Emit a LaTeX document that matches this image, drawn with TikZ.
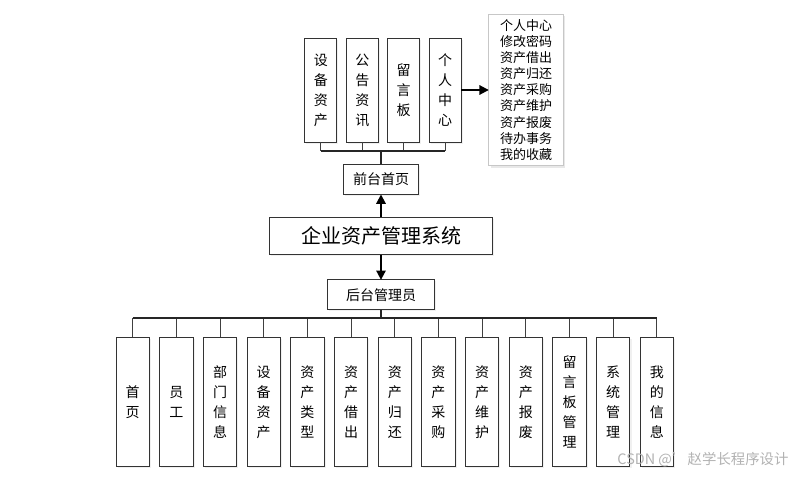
\documentclass[tikz,border=0pt]{standalone}
\usepackage{fontspec}
\setmainfont{Noto Sans CJK SC}
\usetikzlibrary{positioning,arrows.meta,shadows}

\begin{document}
\begin{tikzpicture}[x=0.75pt,y=-0.75pt,>={Triangle[length=7pt,width=7pt]},
    every node/.style={inner sep=0pt,outer sep=0pt},
    box node/.style={draw=black!80,fill=white,line width=0.7pt,align=center,
        drop shadow={opacity=0.12,shadow xshift=1.2pt,shadow yshift=-1.2pt}},
    main node/.style={box node,minimum width=167.5pt,minimum height=28.3pt,font=\fontsize{15pt}{18pt}\selectfont},
    mid node/.style={box node,minimum height=22.5pt,font=\fontsize{10.5pt}{13pt}\selectfont},
    top node/.style={box node,minimum width=24pt,minimum height=78pt,font=\fontsize{10.5pt}{15pt}\selectfont},
    sub node/.style={box node,minimum width=25.1pt,minimum height=97pt,font=\fontsize{10.5pt}{15pt}\selectfont},
    list node/.style={draw=black!22,fill=white,line width=0.6pt,align=center,minimum width=56pt,minimum height=113.8pt,
        font=\fontsize{9.75pt}{12.05pt}\selectfont,
        drop shadow={opacity=0.18,shadow xshift=1.5pt,shadow yshift=-1.5pt}},
    link/.style={draw=black!75,line width=0.75pt},
    bus/.style={draw=black!85,line width=1.2pt},
    arrow/.style={draw=black,line width=1.4pt,->}]
    \useasboundingbox (0,0) rectangle (797,477);

    % system and the two entrances
    \node[main node] (sys) at (381,236) {企业资产管理系统};
    \node[mid node,minimum width=56.25pt] (front) [above=17pt of sys] {前台首页};
    \node[mid node,minimum width=80pt] (back) [below=18.75pt of sys] {后台管理员};

    % front pages
    \node[top node] (t1) at (320.8,90) {设\\备\\资\\产};
    \node[top node] (t2) [right=7.1pt of t1] {公\\告\\资\\讯};
    \node[top node] (t3) [right=7.1pt of t2] {留\\言\\板};
    \node[top node] (t4) [right=7.1pt of t3] {个\\人\\中\\心};
    \node[list node] (list) [right=20.7pt of t4] {个人中心\\修改密码\\资产借出\\资产归还\\资产采购\\资产维护\\资产报废\\待办事务\\我的收藏};

    % back pages
    \node[sub node] (b1) at (132.7,402) {首\\页};
    \foreach \name [count=\i from 2, evaluate=\i as \j using int(\i-1)] in
        {员\\工, 部\\门\\信\\息, 设\\备\\资\\产, 资\\产\\类\\型, 资\\产\\借\\出,
         资\\产\\归\\还, 资\\产\\采\\购, 资\\产\\维\\护, 资\\产\\报\\废,
         留\\言\\板\\管\\理, 系\\统\\管\\理, 我\\的\\信\\息}
        \node[sub node] (b\i) [right=7.66pt of b\j] {\name};

    % connectors
    \coordinate[above=10.2pt of front] (topbus);
    \coordinate[below=6.2pt of back] (botbus);
    \foreach \i in {1,...,4}
        \path[link] (t\i.south) |- (topbus);
    \path[bus] (t1.south |- topbus) -- (t4.south |- topbus);
    \path[bus] (front.north) -- (topbus);
    \foreach \i in {1,...,13}
        \path[link] (b\i.north) |- (botbus);
    \path[bus] (b1.north |- botbus) -- (b13.north |- botbus);
    \path[bus] (back.south) -- (botbus);

    \path[arrow] (sys) -- (front);
    \path[arrow] (sys) -- (back);
    \path[arrow] (t4) -- (list);

    \node[text=black!30,font=\fontsize{10.8pt}{13pt}\selectfont] (mark) at (703,460) {CSDN @'\hspace{1pt}赵学长程序设计};
\end{tikzpicture}
\end{document}
